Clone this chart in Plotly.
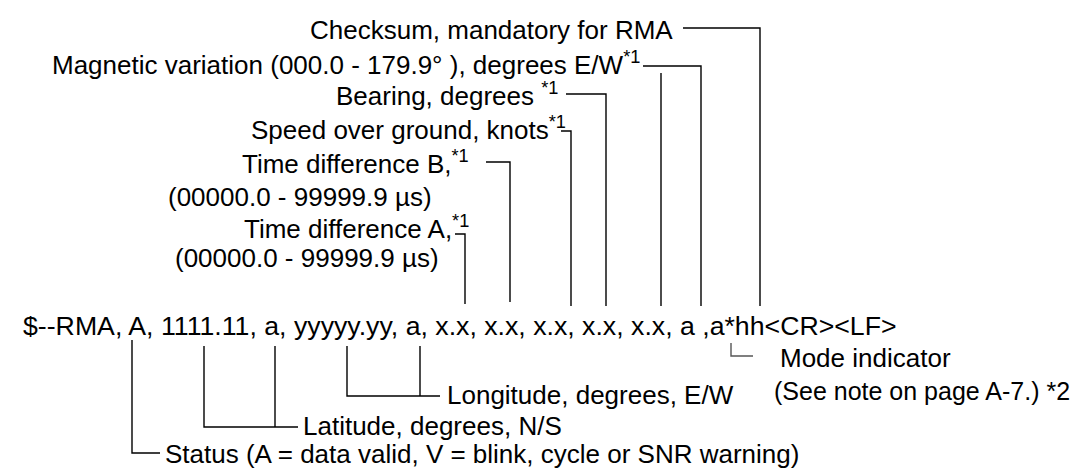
import plotly.graph_objects as go

W, H = 1085, 468
FONT = "Liberation Sans, Arial, sans-serif"
FS = 26
FS_MAIN = 26.7

# ---- text content ----
main_sentence = "$--RMA, A, 1111.11, a, yyyyy.yy, a, x.x, x.x, x.x, x.x, x.x, a ,a*hh&lt;CR&gt;&lt;LF&gt;"
top_labels = [
    "Checksum, mandatory for RMA",
    "Magnetic variation (000.0 - 179.9° ), degrees E/W<sup>*1</sup>",
    "Bearing, degrees <sup>*1</sup>",
    "Speed over ground, knots<sup>*1</sup>",
    "Time difference B,<sup>*1</sup>",
    "(00000.0 - 99999.9 µs)",
    "Time difference A,<sup>*1</sup>",
    "(00000.0 - 99999.9 µs)",
]
bottom_labels = [
    "Mode indicator",
    "(See note on page A-7.) *2",
    "Longitude, degrees, E/W",
    "Latitude, degrees, N/S",
    "Status (A = data valid, V = blink, cycle or SNR warning)",
]

# ---- layout positions (pixels) ----
top_label_x = [667, 634, 552, 560, 463, 426, 463, 433]
top_label_y = [22, 55, 86, 120, 154, 189, 219, 250]
bottom_label_x = [770, 764, 437, 293, 155]
bottom_label_y = [350, 383, 387, 418, 446]
bottom_label_size = [26, 25, 26, 26, 26]
main_x, main_y = 13, 318

# connector polylines: (xs, ys, color)
connectors = [
    ([675, 752, 752], [20, 20, 298], "black"),
    ([635, 693, 693], [58, 58, 298], "black"),
    ([653, 653], [65, 298], "black"),
    ([558, 598, 598], [86, 86, 298], "black"),
    ([553, 563, 563], [123, 123, 298], "black"),
    ([478, 502, 502], [154, 154, 294], "black"),
    ([447, 457, 457], [226, 226, 296], "black"),
    ([124, 124, 152], [332, 445, 445], "black"),
    ([196, 196, 290], [338, 419, 419], "black"),
    ([267, 267], [338, 419], "black"),
    ([339, 339, 432], [338, 388, 388], "black"),
    ([412, 412], [338, 388], "black"),
    ([723, 723, 745], [335, 348, 348], "#555555"),
]

fig = go.Figure()
for xs, ys, col in connectors:
    fig.add_trace(go.Scatter(x=xs, y=ys, mode="lines",
                             line=dict(color=col, width=1.4),
                             hoverinfo="skip", showlegend=False))

ann = []
for t, x, y in zip(top_labels, top_label_x, top_label_y):
    ann.append(dict(text=t, x=x, y=y, xanchor="right", yanchor="middle",
                    font=dict(family=FONT, size=FS, color="black")))
for t, x, y, s in zip(bottom_labels, bottom_label_x, bottom_label_y, bottom_label_size):
    ann.append(dict(text=t, x=x, y=y, xanchor="left", yanchor="middle",
                    font=dict(family=FONT, size=s, color="black")))
ann.append(dict(text=main_sentence, x=main_x, y=main_y, xanchor="left", yanchor="middle",
                font=dict(family=FONT, size=FS_MAIN, color="black")))
for a in ann:
    a.update(xref="x", yref="y", showarrow=False)

fig.update_layout(
    width=W, height=H,
    margin=dict(l=0, r=0, t=0, b=0),
    paper_bgcolor="white", plot_bgcolor="white",
    xaxis=dict(range=[0, W], visible=False, fixedrange=True),
    yaxis=dict(range=[H, 0], visible=False, fixedrange=True),
    annotations=ann,
    showlegend=False,
)
fig.write_html("out.html")
